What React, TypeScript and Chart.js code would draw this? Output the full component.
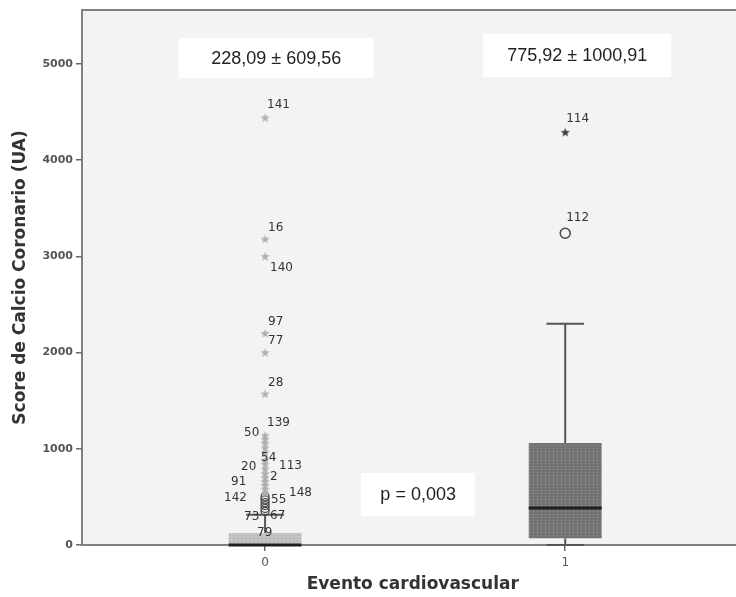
import React, { useEffect, useRef } from 'react';
import { Chart, registerables } from 'chart.js';

Chart.register(...registerables);

// ---- data ----
const categories = ['0', '1'];
const q1Values = [0, 70];
const medianValues = [0, 385];
const q3Values = [125, 1060];
const whiskerLowValues = [0, 0];
const whiskerHighValues = [315, 2300];

const extremes0 = [4440, 3180, 3000, 2200, 2000, 1570, 1140, 1100, 1060, 1010, 960, 880, 840, 790, 740, 700, 660, 620, 580, 540];
const outliers0 = [500, 470, 440, 410, 380, 350];
const extremes1 = [4290];
const outliers1 = [3240];

const labelIds0 = ['141', '16', '140', '97', '77', '28', '139', '50', '54', '20', '113', '2', '91', '148', '142', '55', '73', '67', '79'];
const labelValues0 = [4574, 3295, 2879, 2318, 2121, 1684, 1268, 1164, 904, 811, 821, 707, 655, 541, 489, 468, 291, 301, 125];
const labelDx0 = [2, 3, 5, 3, 3, 3, 2, -21, -4, -24, 14, 5, -34, 24, -41, 6, -21, 5, -8];
const labelIds1 = ['114', '112'];
const labelValues1 = [4428, 3399];
const labelDx1 = [1, 1];

const annotTexts = ['228,09 \u00B1 609,56', '775,92 \u00B1 1000,91', 'p = 0,003'];
const annotX = [0.037, 1.04, 0.51];
const annotY = [5062, 5088, 525];
const annotW = [195, 188, 114];
const annotH = [40, 43, 43];

const yTicks = [0, 1000, 2000, 3000, 4000, 5000];

const BOX_W = 0.243;
const CAP_W = 0.125;

function makeStar(color: string): HTMLCanvasElement {
  const c = document.createElement('canvas');
  c.width = 11;
  c.height = 11;
  const g = c.getContext('2d')!;
  g.fillStyle = color;
  g.beginPath();
  for (let i = 0; i < 10; i++) {
    const r = i % 2 === 0 ? 4.8 : 2.0;
    const a = -Math.PI / 2 + (i * Math.PI) / 5;
    const px = 5.5 + r * Math.cos(a);
    const py = 5.8 + r * Math.sin(a);
    if (i === 0) g.moveTo(px, py);
    else g.lineTo(px, py);
  }
  g.closePath();
  g.fill();
  return c;
}

function makePattern(ctx: CanvasRenderingContext2D, base: string, dot: string) {
  const c = document.createElement('canvas');
  c.width = 4;
  c.height = 3;
  const g = c.getContext('2d')!;
  g.fillStyle = base;
  g.fillRect(0, 0, 4, 3);
  g.fillStyle = dot;
  g.fillRect(1, 1, 1, 1);
  return ctx.createPattern(c, 'repeat');
}

const boxPlugin = {
  id: 'spssBox',
  beforeDraw(chart: any) {
    const { ctx, chartArea: a } = chart;
    ctx.save();
    ctx.fillStyle = '#f2f3f3';
    ctx.fillRect(a.left, a.top, a.right - a.left, a.bottom - a.top);
    ctx.restore();
  },
  beforeDatasetsDraw(chart: any) {
    const { ctx, chartArea: a, scales } = chart;
    const x = scales.x;
    const y = scales.y;
    ctx.save();
    ctx.strokeStyle = '#808080';
    ctx.lineWidth = 2;
    ctx.strokeRect(a.left, a.top, a.right - a.left + 10, a.bottom - a.top);
    const patterns = [
      makePattern(ctx, '#c3c3c3', '#a8a8a8'),
      makePattern(ctx, '#737373', '#a0a0a0'),
    ];
    const line = (x1: number, y1: number, x2: number, y2: number) => {
      ctx.beginPath();
      ctx.moveTo(x1, y1);
      ctx.lineTo(x2, y2);
      ctx.stroke();
    };
    categories.forEach((_c, i) => {
      const cx = x.getPixelForValue(i);
      const half = (x.getPixelForValue(BOX_W) - x.getPixelForValue(0)) / 2;
      const capHalf = (x.getPixelForValue(CAP_W) - x.getPixelForValue(0)) / 2;
      const yq1 = y.getPixelForValue(q1Values[i]);
      const yq3 = y.getPixelForValue(q3Values[i]);
      const ymed = y.getPixelForValue(medianValues[i]);
      const ylo = y.getPixelForValue(whiskerLowValues[i]);
      const yhi = y.getPixelForValue(whiskerHighValues[i]);
      ctx.strokeStyle = '#555555';
      ctx.lineWidth = 2;
      line(cx, yq3, cx, yhi);
      line(cx - capHalf, yhi, cx + capHalf, yhi);
      line(cx, yq1, cx, ylo);
      line(cx - capHalf, ylo, cx + capHalf, ylo);
      ctx.fillStyle = patterns[i] || '#999';
      ctx.fillRect(cx - half, yq3, 2 * half, yq1 - yq3);
      ctx.strokeStyle = '#1e1e1e';
      ctx.lineWidth = 3;
      line(cx - half, ymed, cx + half, ymed);
    });
    ctx.restore();
  },
  afterDatasetsDraw(chart: any) {
    const { ctx, scales } = chart;
    const x = scales.x;
    const y = scales.y;
    ctx.save();
    ctx.font = '12px "DejaVu Sans"';
    ctx.fillStyle = '#333';
    ctx.textAlign = 'left';
    ctx.textBaseline = 'middle';
    labelIds0.forEach((t, i) => {
      ctx.fillText(t, x.getPixelForValue(0) + labelDx0[i], y.getPixelForValue(labelValues0[i]));
    });
    labelIds1.forEach((t, i) => {
      ctx.fillText(t, x.getPixelForValue(1) + labelDx1[i], y.getPixelForValue(labelValues1[i]));
    });
    annotTexts.forEach((t, i) => {
      const cx = x.getPixelForValue(annotX[i]);
      const cy = y.getPixelForValue(annotY[i]);
      ctx.fillStyle = '#ffffff';
      ctx.fillRect(cx - annotW[i] / 2, cy - annotH[i] / 2, annotW[i], annotH[i]);
      ctx.fillStyle = '#222';
      ctx.font = '18px "Liberation Sans", Arial, sans-serif';
      ctx.textAlign = 'center';
      ctx.fillText(t, cx, cy + 1);
    });
    ctx.restore();
  },
};

export default function App() {
  const ref = useRef<HTMLCanvasElement | null>(null);
  useEffect(() => {
    if (!ref.current) return;
    const lightStar = makeStar('#aeaeae');
    const darkStar = makeStar('#3a3a3a');
    const chart = new Chart(ref.current, {
      type: 'scatter',
      data: {
        datasets: [
          {
            data: extremes0.map((v) => ({ x: 0, y: v })),
            pointStyle: lightStar as any,
            pointRadius: 5,
          },
          {
            data: outliers0.map((v) => ({ x: 0, y: v })),
            pointStyle: 'circle',
            pointRadius: 4,
            borderColor: '#4a4a4a',
            backgroundColor: 'rgba(0,0,0,0)',
            borderWidth: 1.3,
          },
          {
            data: extremes1.map((v) => ({ x: 1, y: v })),
            pointStyle: darkStar as any,
            pointRadius: 5,
          },
          {
            data: outliers1.map((v) => ({ x: 1, y: v })),
            pointStyle: 'circle',
            pointRadius: 5,
            borderColor: '#4a4a4a',
            backgroundColor: 'rgba(0,0,0,0)',
            borderWidth: 1.5,
          },
        ],
      },
      options: {
        animation: false,
        responsive: false,
        devicePixelRatio: 1,
        layout: { padding: { top: 10, left: 0, right: 0, bottom: 0 } },
        plugins: { legend: { display: false }, tooltip: { enabled: false } },
        scales: {
          x: {
            type: 'linear',
            min: -0.61,
            max: 1.594,
            afterFit: (s: any) => {
              s.height = 52;
            },
            afterBuildTicks: (s: any) => {
              s.ticks = categories.map((_c, i) => ({ value: i }));
            },
            ticks: {
              callback: (v: any) => categories[Math.round(Number(v))],
              font: { family: 'DejaVu Sans', size: 12 },
              color: '#555',
              padding: 5,
            },
            grid: { display: true, drawOnChartArea: false, drawTicks: true, tickLength: 6, tickColor: '#666', lineWidth: 1.5 },
            border: { display: false },
            title: {
              display: true,
              text: 'Evento cardiovascular',
              font: { family: 'DejaVu Sans', size: 17, weight: 'bold' },
              color: '#333',
              padding: { top: 0, bottom: 2 },
            },
          },
          y: {
            type: 'linear',
            min: 0,
            max: 5561,
            afterFit: (s: any) => {
              s.width = 82;
            },
            afterBuildTicks: (s: any) => {
              s.ticks = yTicks.map((v) => ({ value: v }));
            },
            ticks: {
              callback: (v: any) => String(v),
              font: { family: 'DejaVu Sans', size: 11, weight: 'bold' },
              color: '#555',
              padding: 3,
            },
            grid: { display: true, drawOnChartArea: false, drawTicks: true, tickLength: 6, tickColor: '#666', lineWidth: 1.5 },
            border: { display: false },
            title: {
              display: true,
              text: 'Score de Calcio Coronario (UA)',
              font: { family: 'DejaVu Sans', size: 17, weight: 'bold' },
              color: '#333',
              padding: { top: 10, bottom: 0 },
            },
          },
        },
      },
      plugins: [boxPlugin],
    });
    return () => chart.destroy();
  }, []);
  return (
    <div
      style={{
        position: 'fixed',
        left: 0,
        top: 0,
        width: 736,
        height: 597,
        overflow: 'hidden',
        background: '#ffffff',
      }}
    >
      <canvas ref={ref} width={750} height={597} style={{ display: 'block', width: 750, height: 597 }} />
    </div>
  );
}
